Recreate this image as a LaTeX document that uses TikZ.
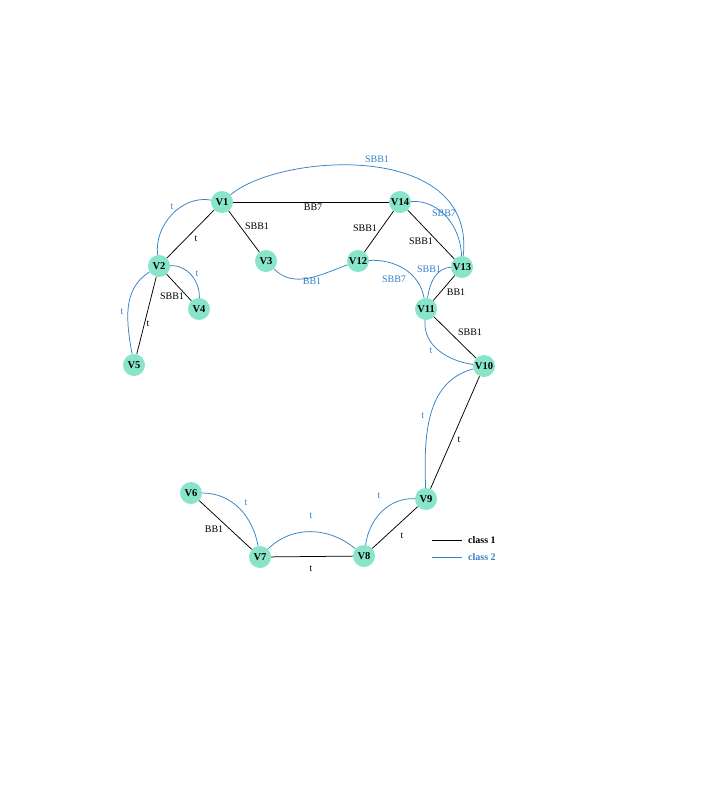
\documentclass[tikz,border=0pt]{standalone}
\usepackage{fontspec}
\setmainfont{Liberation Serif}
\definecolor{mint}{RGB}{136,229,201}
\definecolor{cblue}{RGB}{50,130,200}
\begin{document}
\begin{tikzpicture}[x=1pt,y=-1pt,
  vnode/.style={circle,fill=mint,inner sep=0pt,minimum size=22pt,font=\fontsize{10.5}{11}\selectfont\bfseries},
  lbl/.style={inner sep=0pt,font=\fontsize{10}{11}\selectfont},
  blbl/.style={lbl,text=cblue},
  c1/.style={draw=black,line width=0.75pt},
  c2/.style={draw=cblue,line width=0.75pt}]
\useasboundingbox (0,0) rectangle (702,798);
% nodes
\node[vnode] (V1) at (222,202) {V1};
\node[vnode] (V2) at (159,266) {V2};
\node[vnode] (V3) at (266,261) {V3};
\node[vnode] (V4) at (199,309) {V4};
\node[vnode] (V5) at (134,365) {V5};
\node[vnode] (V14) at (400,202) {V14};
\node[vnode] (V12) at (358,261) {V12};
\node[vnode] (V13) at (462,267) {V13};
\node[vnode] (V11) at (426,309) {V11};
\node[vnode] (V10) at (484,366) {V10};
\node[vnode] (V9) at (426,499) {V9};
\node[vnode] (V6) at (191,493) {V6};
\node[vnode] (V7) at (260,557) {V7};
\node[vnode] (V8) at (364,556) {V8};
% class 1
\draw[c1] (V1) -- (V14);
\draw[c1] (V1) -- (V2);
\draw[c1] (V1) -- (V3);
\draw[c1] (V2) -- (V4);
\draw[c1] (V2) -- (V5);
\draw[c1] (V14) -- (V12);
\draw[c1] (V14) -- (V13);
\draw[c1] (V13) -- (V11);
\draw[c1] (V11) -- (V10);
\draw[c1] (V10) -- (V9);
\draw[c1] (V9) -- (V8);
\draw[c1] (V6) -- (V7);
\draw[c1] (V7) -- (V8);
% class 2
\draw[c2] (V1) .. controls (280,153) and (476,140) .. (V13);
\draw[c2] (V1) to[out=170,in=97] (V2);
\draw[c2] (V2) to[out=2,in=88] (V4);
\draw[c2] (V2) to[out=212,in=100] (V5);
\draw[c2] (V3) to[out=-45,in=-160] (V12);
\draw[c2] (V14) to[out=3,in=92] (V13);
\draw[c2] (V12) to[out=3,in=100] (V11);
\draw[c2] (V13) to[out=182,in=82] (V11);
\draw[c2] (V11) to[out=-95,in=172] (V10);
\draw[c2] (V10) to[out=195,in=92] (V9);
\draw[c2] (V9) to[out=178,in=82] (V8);
\draw[c2] (V7) to[out=45,in=140] (V8);
\draw[c2] (V6) to[out=0,in=100] (V7);
% labels class 1
\node[lbl] (lBB7) at (313,207) {BB7};
\node[lbl] (lSBB1a) at (257,226) {SBB1};
\node[lbl] (lt1) at (196,239) {t};
\node[lbl] (lSBB1b) at (172,296) {SBB1};
\node[lbl] (lt2) at (148,324) {t};
\node[lbl] (lSBB1c) at (365,228) {SBB1};
\node[lbl] (lSBB1d) at (421,241) {SBB1};
\node[lbl] (lBB1a) at (456,292) {BB1};
\node[lbl] (lSBB1e) at (470,332) {SBB1};
\node[lbl] (lt3) at (459,440) {t};
\node[lbl] (lBB1b) at (214,529) {BB1};
\node[lbl] (lt4) at (311,569) {t};
\node[lbl] (lt5) at (402,536) {t};
% labels class 2
\node[blbl] (bSBB1a) at (377,159) {SBB1};
\node[blbl] (bt1) at (172,207) {t};
\node[blbl] (bt2) at (197,274) {t};
\node[blbl] (bt3) at (122,312) {t};
\node[blbl] (bSBB7a) at (444,213) {SBB7};
\node[blbl] (bBB1) at (312,281) {BB1};
\node[blbl] (bSBB7b) at (394,279) {SBB7};
\node[blbl] (bSBB1b) at (429,269) {SBB1};
\node[blbl] (bt4) at (431,351) {t};
\node[blbl] (bt5) at (423,416) {t};
\node[blbl] (bt6) at (246,503) {t};
\node[blbl] (bt7) at (311,516) {t};
\node[blbl] (bt8) at (379,496) {t};
% legend
\coordinate (L1a) at (432,540);
\coordinate (L1b) at (462,540);
\coordinate (L2a) at (432,557);
\coordinate (L2b) at (462,557);
\draw[c1] (L1a) -- (L1b);
\draw[c2] (L2a) -- (L2b);
\node[lbl,anchor=west,font=\fontsize{10}{11}\selectfont\bfseries] (leg1) at (468,540) {class 1};
\node[blbl,anchor=west,font=\fontsize{10}{11}\selectfont\bfseries] (leg2) at (468,557) {class 2};
\end{tikzpicture}
\end{document}
